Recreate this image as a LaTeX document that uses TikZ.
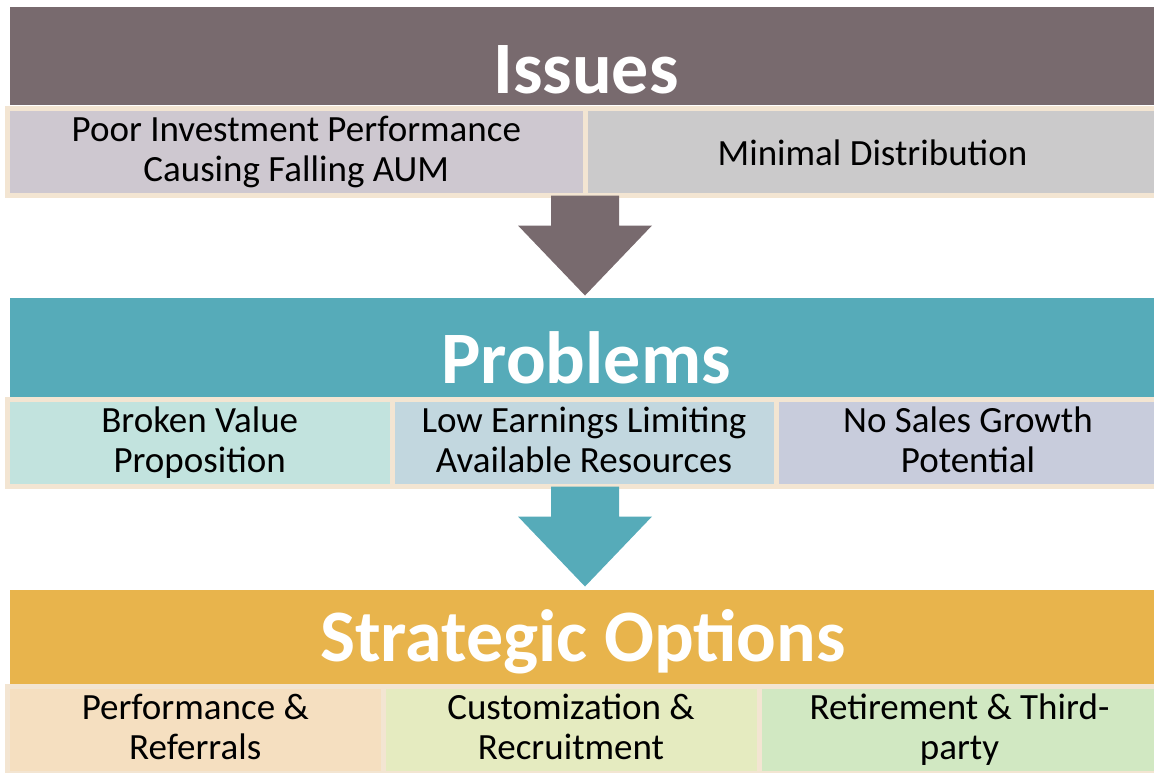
\documentclass[tikz,border=0pt]{standalone}
\usepackage{fontspec}
\setmainfont{Carlito}
\usepackage{tikz}
\usetikzlibrary{positioning}
\definecolor{issc}{HTML}{786A6E}
\definecolor{probc}{HTML}{56ABB9}
\definecolor{stratc}{HTML}{E8B44C}
\definecolor{edgec}{HTML}{F3E5D2}
\definecolor{ione}{HTML}{CEC8D0}
\definecolor{itwo}{HTML}{CBCACB}
\definecolor{pone}{HTML}{C2E3DE}
\definecolor{ptwo}{HTML}{C2D7DF}
\definecolor{pthree}{HTML}{C8CCDC}
\definecolor{sone}{HTML}{F5DFC0}
\definecolor{stwo}{HTML}{E5EBC0}
\definecolor{sthree}{HTML}{D1E8C2}
\newcommand\kstrut{\rule[-7pt]{0pt}{40pt}}

\begin{document}
\begin{tikzpicture}[x=1pt,y=-1pt,
  hd/.style={rectangle,minimum width=1150pt,minimum height=#1,inner sep=0pt,outer sep=0pt},
  ttl/.style={anchor=base,text=white,font=\fontsize{74}{88}\selectfont\bfseries},
  k/.style={rectangle,draw=edgec,line width=5pt,minimum height=87pt,inner sep=0pt,outer sep=0pt,
            anchor=west,align=center,font=\fontsize{37}{40}\selectfont,
            execute at begin node=\kstrut,execute at end node=\kstrut}]
  \useasboundingbox (0,0) rectangle (1154,772);

  % issues
  \node[hd=98pt,fill=issc] (ih) at (585,56) {};
  \node[ttl] (it) at (586,93) {Issues};
  \node[k,fill=ione,minimum width=577.5pt] (i1) at (7.5,152) {Poor Investment Performance\\Causing Falling AUM};
  \node[k,fill=itwo,minimum width=575pt] (i2) at (i1.east) {Minimal Distribution};

  % problems
  \node[hd=99pt,fill=probc] (ph) at (585,347.5) {};
  \node[ttl] (pt) at (586,383) {Problems};
  \node[k,fill=pone,minimum width=384.5pt] (p1) at (7.5,443) {Broken Value\\Proposition};
  \node[k,fill=ptwo,minimum width=384pt] (p2) at (p1.east) {Low Earnings Limiting\\Available Resources};
  \node[k,fill=pthree,minimum width=384pt] (p3) at (p2.east) {No Sales Growth\\Potential};

  % strategic options
  \node[hd=94pt,fill=stratc] (sh) at (585,637) {};
  \node[ttl] (st) at (583,661) {Strategic Options};
  \node[k,fill=sone,minimum width=375.5pt] (s1) at (7.5,730) {Performance \&\\Referrals};
  \node[k,fill=stwo,minimum width=376pt] (s2) at (s1.east) {Customization \&\\Recruitment};
  \node[k,fill=sthree,minimum width=401pt] (s3) at (s2.east) {Retirement \& Third-\\party};

  % block arrows
  \coordinate (a1) at (ih.center |- i1.south);
  \coordinate (a2) at (ph.center |- p2.south);
  \fill[issc] (a1) ++(-34,0) -- ++(68,0) -- ++(0,30) -- ++(33,0) -- ++(-67,70)
    -- ++(-67,-70) -- ++(33,0) -- cycle;
  \fill[probc] (a2) ++(-34,0) -- ++(68,0) -- ++(0,30) -- ++(33,0) -- ++(-67,70)
    -- ++(-67,-70) -- ++(33,0) -- cycle;
\end{tikzpicture}
\end{document}
